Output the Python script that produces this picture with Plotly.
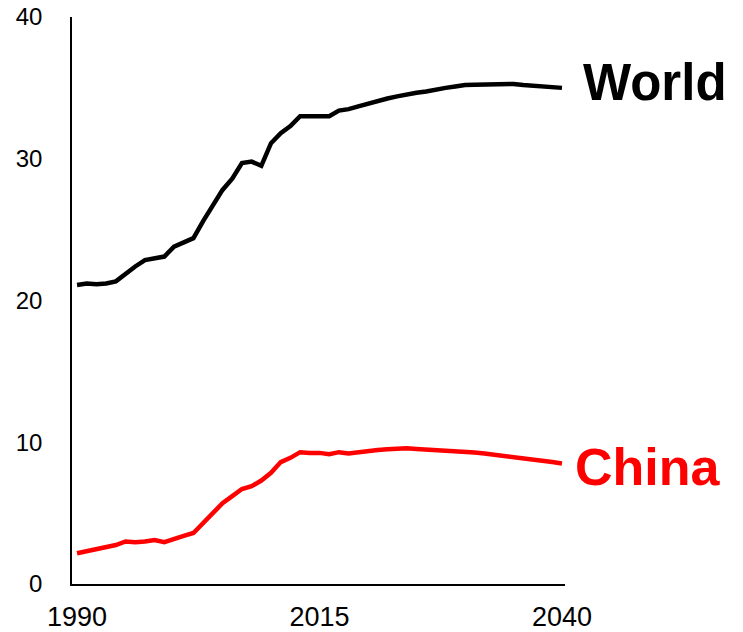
import plotly.graph_objects as go

years = list(range(1990, 2041))

world = [21.1, 21.2, 21.15, 21.2, 21.35, 21.9, 22.4, 22.85, 23.0, 23.1,
         23.8, 24.1, 24.4, 25.6, 26.7, 27.8, 28.6, 29.7, 29.8, 29.5,
         31.1, 31.8, 32.3, 33.0, 33.0, 33.0, 33.0, 33.4, 33.5, 33.7,
         33.9, 34.1, 34.25, 34.4, 34.55, 34.65, 34.75, 34.9, 35.0, 35.1,
         35.2, 35.22, 35.25, 35.28, 35.3, 35.28, 35.2, 35.15, 35.1, 35.05,
         35.0]

china = [2.17, 2.3, 2.45, 2.6, 2.75, 3.0, 2.95, 3.0, 3.1, 2.95,
         3.2, 3.4, 3.6, 4.3, 5.0, 5.7, 6.2, 6.7, 6.9, 7.3,
         7.85, 8.6, 8.9, 9.3, 9.25, 9.25, 9.15, 9.3, 9.2, 9.3,
         9.38, 9.45, 9.5, 9.55, 9.57, 9.53, 9.5, 9.45, 9.42, 9.4,
         9.35, 9.28, 9.2, 9.12, 9.05, 8.98, 8.9, 8.8, 8.7, 8.6,
         8.5]

fig = go.Figure()
fig.add_trace(go.Scatter(x=years, y=world, mode='lines',
                         line=dict(color='black', width=4.5)))
fig.add_trace(go.Scatter(x=years, y=china, mode='lines',
                         line=dict(color='#ff0000', width=4.5)))

fig.add_annotation(x=2040, y=35.35, text='<b>World</b>', showarrow=False,
                   xanchor='left', yanchor='middle', xshift=19,
                   font=dict(size=51, color='black', family='Liberation Sans, Arial'))
fig.add_annotation(x=2040, y=8.25, text='<b>China</b>', showarrow=False,
                   xanchor='left', yanchor='middle', xshift=11,
                   font=dict(size=52, color='#ff0000', family='Liberation Sans, Arial'))

fig.update_layout(
    width=743,
    height=632,
    showlegend=False,
    plot_bgcolor='white',
    paper_bgcolor='white',
    margin=dict(l=72, r=178, t=17, b=48),
    font=dict(family='Liberation Sans, Arial', color='black'),
    xaxis=dict(
        range=[1989.48, 2040.31],
        tickvals=[1990, 2015, 2040],
        showgrid=False,
        zeroline=False,
        showline=True,
        linecolor='black',
        linewidth=2,
        tickfont=dict(size=27),
        ticklabelstandoff=8,
        automargin=False,
    ),
    yaxis=dict(
        range=[0, 40],
        tickvals=[0, 10, 20, 30, 40],
        showgrid=False,
        zeroline=False,
        showline=True,
        linecolor='black',
        linewidth=1.5,
        tickfont=dict(size=24),
        ticklabelstandoff=23,
        automargin=False,
    ),
)

# page body has an 8px default margin; drop it so the figure fills the window
fig.write_html("out.html", config={'displayModeBar': False},
               post_script="document.body.style.margin='0';")
